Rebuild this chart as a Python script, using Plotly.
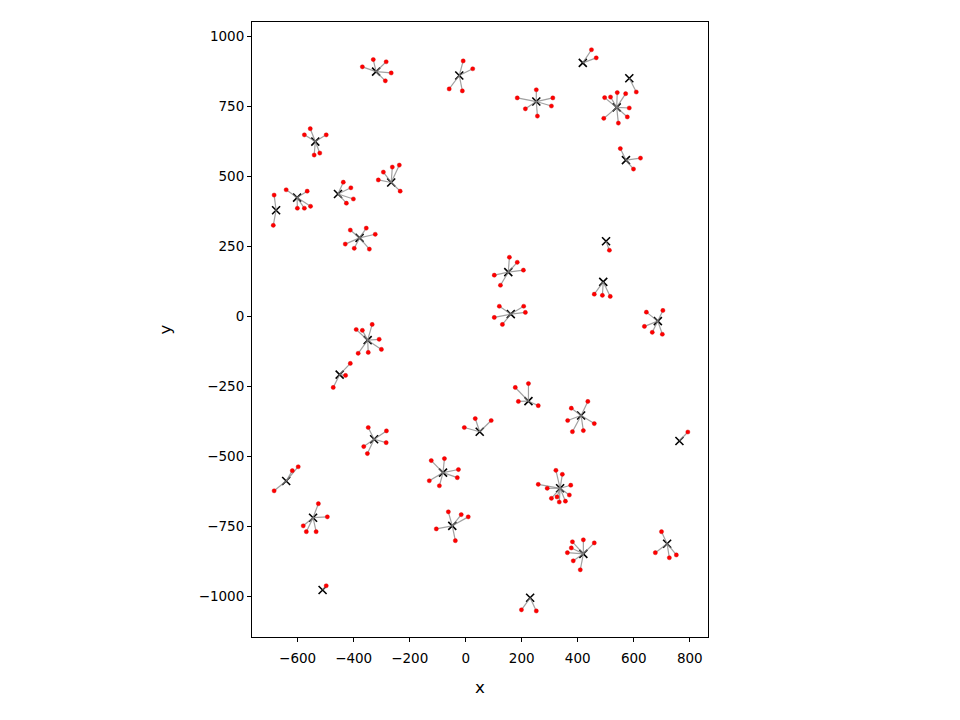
import plotly.graph_objects as go

# cluster centres (black x)
center_x = [-320, -23, 418, 584, 252, 539, -537, 572, -602, -677, -456, -266,
            -379, 501, 152, 491, 161, 686, -350, -450, 224, 412, 50, -327,
            763, -81, 337, -641, -545, -48, 420, 719, -511, 230]
center_y = [873, 859, 904, 849, 766, 745, 623, 557, 423, 378, 436, 477,
            279, 267, 157, 122, 7, -18, -86, -209, -304, -355, -413, -440,
            -446, -559, -615, -589, -720, -749, -849, -813, -978, -1006]

# member points (red dots) and the index of their centre
pt_x = [-369, -330, -284, -266, -287,
        -9, 25, -59, -12,
        449, 466,
        609,
        252, 184, 311, 306, 213, 256,
        496, 517, 541, 571, 584, 577, 545, 493,
        -555, -576, -498, -541, -521,
        552, 624, 599,
        -641, -566, -601, -576, -554,
        -684, -687,
        -437, -410, -401, -426,
        -312, -294, -262, -237, -234,
        -412, -355, -323, -430, -398, -344,
        513,
        156, 184, 206, 102, 124,
        459, 488, 516,
        120, 207, 213, 102, 131,
        645, 704, 638, 666, 702,
        -391, -369, -334, -309, -301, -348, -384,
        -412, -429, -473,
        177, 224, 188, 259,
        377, 436, 364, 459, 381, 420,
        -5, 34, 91,
        -348, -283, -284, -351, -364,
        793,
        -123, -76, -26, -30, -130, -94,
        322, 345, 375, 259, 291, 370, 306, 334, 356, 326,
        -598, -619, -684,
        -526, -494, -580, -569, -534,
        -62, -16, 9, -105, -37,
        381, 420, 459, 377, 363, 384, 409,
        699, 677, 727, 752,
        -498,
        199, 252]
pt_y = [890, 916, 908, 868, 840,
        911, 883, 811, 804,
        951, 922,
        800,
        808, 779, 779, 750, 740, 714,
        780, 782, 798, 794, 743, 711, 689, 706,
        669, 647, 647, 575, 582,
        598, 564, 525,
        451, 446, 385, 385, 392,
        432, 324,
        478, 458, 418, 403,
        486, 514, 532, 539, 446,
        307, 314, 292, 257, 242, 239,
        235,
        210, 192, 164, 146, 110,
        78, 74, 70,
        35, 35, 13, -5, -30,
        14, 20, -37, -58, -65,
        -48, -51, -30, -83, -119, -130, -133,
        -169, -212, -255,
        -255, -241, -305, -320,
        -329, -305, -373, -384, -413, -409,
        -398, -366, -373,
        -398, -410, -452, -491, -466,
        -414,
        -516, -509, -548, -577, -588, -606,
        -551, -565, -604, -601, -615, -639, -651, -664, -661, -646,
        -538, -552, -624,
        -670, -717, -749, -770, -770,
        -699, -709, -717, -760, -802,
        -806, -799, -810, -828, -845, -874, -906,
        -770, -845, -863, -853,
        -963,
        -1049, -1053]
pt_label = ([0] * 5 + [1] * 4 + [2] * 2 + [3] * 1 + [4] * 6 + [5] * 8 + [6] * 5 +
            [7] * 3 + [8] * 5 + [9] * 2 + [10] * 4 + [11] * 5 + [12] * 6 + [13] * 1 +
            [14] * 5 + [15] * 3 + [16] * 5 + [17] * 5 + [18] * 7 + [19] * 3 + [20] * 4 +
            [21] * 6 + [22] * 3 + [23] * 5 + [24] * 1 + [25] * 6 + [26] * 10 + [27] * 3 +
            [28] * 5 + [29] * 5 + [30] * 7 + [31] * 4 + [32] * 1 + [33] * 2)

x_ticks = [-600, -400, -200, 0, 200, 400, 600, 800]
y_ticks = [1000, 750, 500, 250, 0, -250, -500, -750, -1000]

# segments centre -> member
seg_x, seg_y = [], []
for px, py, c in zip(pt_x, pt_y, pt_label):
    seg_x += [center_x[c], px, None]
    seg_y += [center_y[c], py, None]

fig = go.Figure()
fig.add_trace(go.Scatter(
    x=center_x, y=center_y, mode="markers",
    marker=dict(symbol="x-thin", size=8, color="black",
                line=dict(color="black", width=1.6)),
    hoverinfo="skip", showlegend=False))
fig.add_trace(go.Scatter(
    x=seg_x, y=seg_y, mode="lines",
    line=dict(color="rgba(128,128,128,0.75)", width=1.2),
    hoverinfo="skip", showlegend=False))
fig.add_trace(go.Scatter(
    x=pt_x, y=pt_y, mode="markers",
    marker=dict(symbol="circle", size=4.2, color="red",
                line=dict(color="#d40000", width=0.4)),
    showlegend=False))

axis_common = dict(
    showgrid=False, zeroline=False, showline=True, linecolor="black",
    linewidth=1, mirror=True, ticks="outside", ticklen=4, tickwidth=1,
    tickcolor="black", tickfont=dict(family="DejaVu Sans", size=13.5, color="black"),
)
fig.update_xaxes(range=[-763, 865], tickvals=x_ticks, ticklabelstandoff=5,
                 title=dict(text="x", font=dict(family="DejaVu Sans", size=16.7, color="black"),
                            standoff=16),
                 **axis_common)
fig.update_yaxes(range=[-1146, 1050], tickvals=y_ticks,
                 title=dict(text="y", font=dict(family="DejaVu Sans", size=16.7, color="black"),
                            standoff=22),
                 **axis_common)
fig.update_layout(
    width=960, height=720,
    margin=dict(l=244, r=260, t=14, b=91, autoexpand=False),
    paper_bgcolor="white", plot_bgcolor="white",
    font=dict(family="DejaVu Sans"),
)
fig.write_html("out.html")
